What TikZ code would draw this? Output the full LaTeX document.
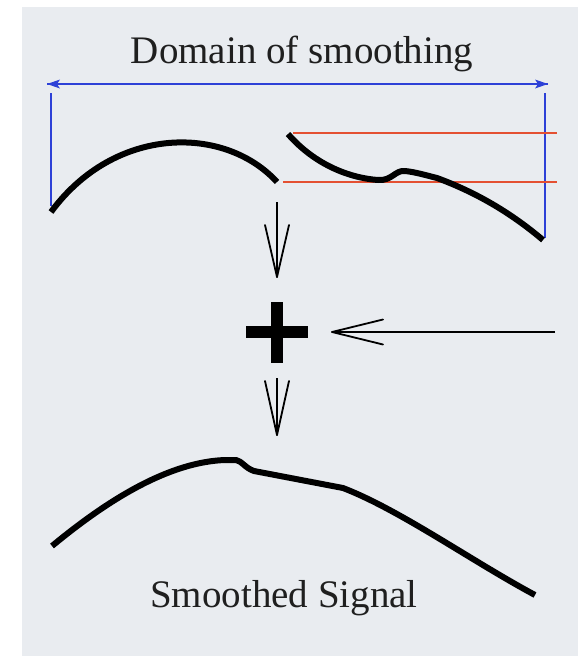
\documentclass[tikz,border=0pt]{standalone}
\usepackage{fontspec}
\setmainfont{Liberation Serif}
\definecolor{panel}{RGB}{233,236,240}
\definecolor{dblue}{RGB}{45,65,215}
\definecolor{dred}{RGB}{228,80,50}
\tikzset{
  signal/.style={line width=6pt, black, line join=round},
  domainline/.style={dblue, line width=1.6pt},
  levelline/.style={dred, line width=1.6pt},
  flowline/.style={line width=2pt, black},
  barb/.style={line width=1.8pt, black, line cap=round},
  label/.style={font=\fontsize{39}{44}\selectfont, text=black!88, inner sep=0pt}
}
\begin{document}
\begin{tikzpicture}[x=1pt,y=-1pt]
\useasboundingbox (0,0) rectangle (578,656);
\fill[white] (0,0) rectangle (578,656);
\fill[panel] (22,7) rectangle (578,656);
% title
\node[label, anchor=base] (title) at (302,63) {Domain of smoothing};
% blue domain
\coordinate (dl) at (47,84);
\coordinate (dr) at (548,84);
\draw[domainline] (dl) -- (dr);
\fill[dblue] (dl) -- ++(13,-4.5) -- ++(-3,4.5) -- ++(3,4.5) -- cycle;
\fill[dblue] (dr) -- ++(-13,-4.5) -- ++(3,4.5) -- ++(-3,4.5) -- cycle;
\coordinate (vl1) at (51,93); \coordinate (vl2) at (51,206);
\coordinate (vr1) at (545,93); \coordinate (vr2) at (545,238);
\draw[domainline] (vl1) -- (vl2);
\draw[domainline] (vr1) -- (vr2);
% red level lines
\coordinate (r1a) at (293,133); \coordinate (r1b) at (557,133);
\coordinate (r2a) at (283,182); \coordinate (r2b) at (557,182);
\draw[levelline] (r1a) -- (r1b);
\draw[levelline] (r2a) -- (r2b);
% left signal piece
\draw[signal] (51,212) .. controls (115,125) and (225,125) .. (277,182);
% right signal piece
\draw[signal] (288,134) .. controls (315,165) and (350,178) .. (378,180)
  .. controls (392,181) and (395,170) .. (405,171)
  .. controls (415,172) and (425,175) .. (437,178)
  .. controls (475,192) and (510,212) .. (543,240);
% plus
\node[inner sep=0pt, minimum size=62pt] (plus) at (277,332) {};
\fill[black] (246,326) rectangle (308,338);
\fill[black] (271,302) rectangle (283,363);
% arrow 1
\coordinate (a1s) at (277,202); \coordinate (a1e) at (277,277);
\draw[flowline] (a1s) -- (a1e);
\draw[barb] (a1e) -- ++(-12,-52);
\draw[barb] (a1e) -- ++(12,-52);
% arrow 2
\coordinate (a2s) at (277,378); \coordinate (a2e) at (277,435);
\draw[flowline] (a2s) -- (a2e);
\draw[barb] (a2e) -- ++(-12,-54);
\draw[barb] (a2e) -- ++(12,-54);
% arrow 3
\coordinate (a3s) at (555,332); \coordinate (a3e) at (332,332);
\draw[flowline] (a3s) -- (a3e);
\draw[barb] (a3e) -- ++(51,-12.5);
\draw[barb] (a3e) -- ++(51,12.5);
% smoothed signal
\draw[signal] (52,546) .. controls (110,498) and (170,462) .. (225,460)
  -- (236,460) .. controls (242,461) and (245,468) .. (254,471)
  -- (343,488) .. controls (400,510) and (470,560) .. (535,595);
\node[label, anchor=base] (res) at (284,607) {Smoothed Signal};
\end{tikzpicture}
\end{document}
